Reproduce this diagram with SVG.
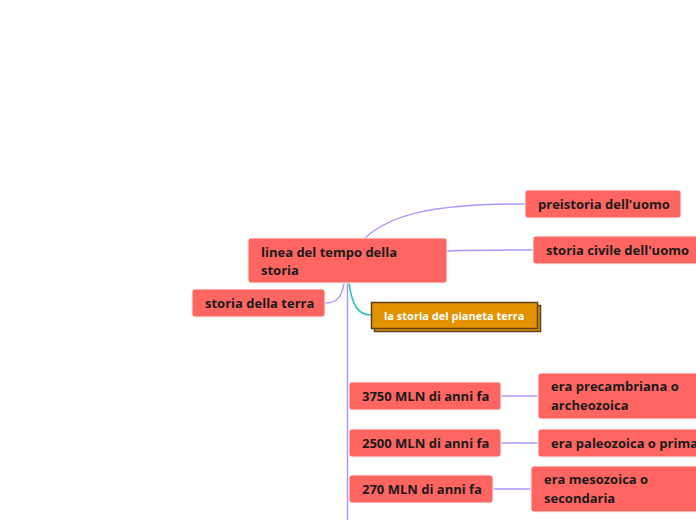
<svg xmlns="http://www.w3.org/2000/svg" width="696" height="520" viewBox="0 0 696 520">
<style>
.n{fill:#ff6661;stroke:#f2f2f2;stroke-width:1}
.t{font-family:"Open Sans","Liberation Sans",sans-serif;font-weight:bold;font-size:13px;fill:#1a1a1a}
.c{fill:none;stroke:#a999ff;stroke-width:1.5}
</style>
<rect width="696" height="520" fill="#ffffff"/>
<g id="connectors">
<path class="c" d="M365,238 C390,215 430,204 525,204"/>
<path class="c" d="M447,251 C480,250 500,250 533,250"/>
<path class="c" d="M344,283 C342,296 338,303 325,303"/>
<path d="M349,283 C352,305 358,315 371,315" fill="none" stroke="#1bbfb0" stroke-width="1.5"/>
<path class="c" d="M347.5,283 L347.5,520"/>
<path class="c" d="M501,396 L538,396"/>
<path class="c" d="M501,443 L538,443"/>
<path class="c" d="M493,489 L531,489"/>
</g>
<g id="main">
<rect class="n" x="248" y="238" width="199" height="45" rx="3"/>
<text class="t" x="261" y="257">linea del tempo della</text>
<text class="t" x="261" y="275">storia</text>
</g>
<g id="storia-terra">
<rect class="n" x="192" y="289" width="133" height="28" rx="3"/>
<text class="t" x="205" y="308">storia della terra</text>
</g>
<g id="preistoria">
<rect class="n" x="525" y="190" width="156" height="28" rx="3"/>
<text class="t" x="538" y="209">preistoria dell'uomo</text>
</g>
<g id="storia-civile">
<rect class="n" x="533" y="236" width="170" height="28" rx="3"/>
<text class="t" x="546" y="255">storia civile dell'uomo</text>
</g>
<g id="pianeta">
<rect x="374.5" y="305.5" width="166" height="26" fill="#e39200" stroke="#5a4020" stroke-width="1.5"/>
<rect x="371.5" y="302.5" width="166" height="26" fill="#e39200" stroke="#5a4020" stroke-width="1.5"/>
<text x="384" y="320" font-family="'Open Sans','Liberation Sans',sans-serif" font-weight="bold" font-size="11px" fill="#ffffff">la storia del pianeta terra</text>
</g>
<g id="n3750">
<rect class="n" x="349" y="382" width="152" height="28" rx="3"/>
<text class="t" x="362" y="401">3750 MLN di anni fa</text>
</g>
<g id="precambriana">
<rect class="n" x="538" y="373" width="170" height="46" rx="3"/>
<text class="t" x="551" y="391">era precambriana o</text>
<text class="t" x="551" y="410">archeozoica</text>
</g>
<g id="n2500">
<rect class="n" x="349" y="429" width="152" height="28" rx="3"/>
<text class="t" x="362" y="448">2500 MLN di anni fa</text>
</g>
<g id="paleozoica">
<rect class="n" x="538" y="429" width="170" height="28" rx="3"/>
<text class="t" x="551" y="448">era paleozoica o primaria</text>
</g>
<g id="n270">
<rect class="n" x="349" y="475" width="144" height="28" rx="3"/>
<text class="t" x="362" y="494">270 MLN di anni fa</text>
</g>
<g id="mesozoica">
<rect class="n" x="531" y="466" width="177" height="46" rx="3"/>
<text class="t" x="544" y="484">era mesozoica o</text>
<text class="t" x="544" y="503">secondaria</text>
</g>
</svg>
